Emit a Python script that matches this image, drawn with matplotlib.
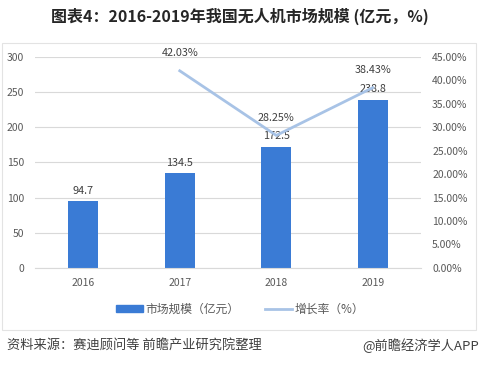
import matplotlib
matplotlib.use('Agg')
import matplotlib.pyplot as plt
from matplotlib.patches import Rectangle
from matplotlib.lines import Line2D

plt.rcParams['font.family'] = ['Noto Sans CJK SC', 'DejaVu Sans']

years = ['2016', '2017', '2018', '2019']
market = [94.7, 134.5, 172.5, 238.8]
growth_years = ['2017', '2018', '2019']
growth = [42.03, 28.25, 38.43]

bar_color = '#3a7bd5'
line_color = '#a8c3e6'
tick_color = '#595959'

fig = plt.figure(figsize=(4.8, 3.67), dpi=100)
ax = fig.add_axes([0.073, 0.27, 0.804, 0.575])

x = list(range(len(years)))
ax.bar(x, market, width=0.31, color=bar_color, zorder=2)
for xi, v in zip(x, market):
    ax.annotate(f'{v}', (xi, v), xytext=(0, 4), textcoords='offset points',
                ha='center', va='bottom', fontsize=7.8, color='#404040')

ax.set_ylim(0, 300)
ax.set_yticks(range(0, 301, 50))
ax.set_xlim(-0.5, 3.5)
ax.set_xticks(x)
ax.set_xticklabels(years)
ax.grid(axis='y', color='#d9d9d9', linewidth=0.8, zorder=0)
ax.set_axisbelow(True)
ax.tick_params(length=0, labelsize=7.5, colors=tick_color)
ax.tick_params(axis='x', pad=7)
ax.tick_params(axis='y', pad=8)
for s in ax.spines.values():
    s.set_visible(False)
ax.spines['bottom'].set_visible(True)
ax.spines['bottom'].set_color('#d9d9d9')

ax2 = ax.twinx()
gx = [years.index(y) for y in growth_years]
ax2.plot(gx, growth, color=line_color, linewidth=2, zorder=3)
for xi, v in zip(gx, growth):
    ax2.annotate(f'{v:.2f}%', (xi, v), xytext=(0, 9), textcoords='offset points',
                 ha='center', va='bottom', fontsize=7.8, color='#404040')
ax2.set_ylim(0, 45)
ax2.set_yticks(range(0, 46, 5))
ax2.set_yticklabels([f'{t:.2f}%' for t in range(0, 46, 5)])
ax2.tick_params(length=0, labelsize=7.5, colors=tick_color, pad=8)
for s in ax2.spines.values():
    s.set_visible(False)

fig.text(0.5, 0.955, '图表4：2016-2019年我国无人机市场规模 (亿元，%)', ha='center', va='center',
         fontsize=11.5, fontweight='bold', color='#262626')

frame = Rectangle((0.004, 0.1), 0.988, 0.783, transform=fig.transFigure,
                  fill=False, edgecolor='#e3e3e3', linewidth=0.8)
fig.patches.append(frame)

handles = [Rectangle((0, 0), 1, 1, color=bar_color),
           Line2D([0], [0], color=line_color, linewidth=2)]
fig.legend(handles, ['市场规模（亿元）', '增长率（%）'], loc='center',
           bbox_to_anchor=(0.5, 0.158), ncol=2, frameon=False, fontsize=8.5,
           handlelength=2.3, handleheight=0.5, handletextpad=0.2,
           columnspacing=2.2, labelcolor=tick_color)

fig.text(0.015, 0.058, '资料来源：赛迪顾问等 前瞻产业研究院整理', ha='left', va='center',
         fontsize=9.5, color='#404040')
fig.text(0.997, 0.058, '@前瞻经济学人APP', ha='right', va='center',
         fontsize=9.5, color='#404040')

fig.savefig('out.png', dpi=100)
